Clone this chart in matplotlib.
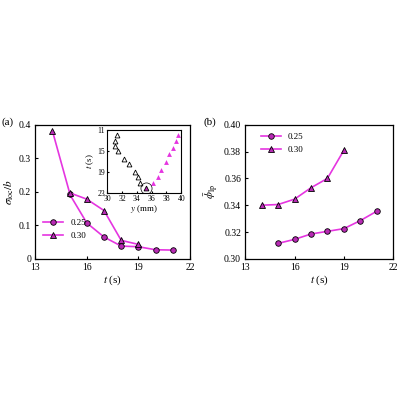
import matplotlib
matplotlib.use("Agg")
import matplotlib.pyplot as plt

plt.rcParams['font.family'] = 'Liberation Serif'
plt.rcParams['font.size'] = 7
plt.rcParams['mathtext.fontset'] = 'stix'

t25 = [15, 16, 17, 18, 19, 20, 21]
t30 = [14, 15, 16, 17, 18, 19]
sig25 = [0.193, 0.107, 0.065, 0.038, 0.036, 0.027, 0.026]
sig30 = [0.382, 0.197, 0.178, 0.144, 0.055, 0.043]
phi25 = [0.3115, 0.3145, 0.3185, 0.3205, 0.3225, 0.3285, 0.3355]
phi30 = [0.340, 0.3405, 0.3445, 0.353, 0.360, 0.381]

ins_y_black = [31.3, 31.1, 31.0, 31.4, 32.3, 33.0, 33.8, 34.1, 34.4]
ins_t_black = [12.0, 13.0, 14.0, 15.0, 16.5, 17.5, 19.0, 20.0, 21.0]
ins_y_mag = [36.2, 36.8, 37.3, 37.9, 38.4, 38.9, 39.3, 39.6]
ins_t_mag = [21.0, 20.0, 18.5, 17.0, 15.5, 14.5, 13.0, 12.0]
ins_y_mid = [35.3]
ins_t_mid = [22.0]

C = '#e535e0'
fig = plt.figure(figsize=(4, 4), dpi=100)
ax1 = fig.add_axes([0.088, 0.353, 0.387, 0.335])
ax2 = fig.add_axes([0.613, 0.353, 0.37, 0.335])

kw = dict(color=C, lw=1.2, mec='k', mfc='#b82ab4', mew=0.6, ms=4)
ax1.plot(t25, sig25, marker='o', label='0.25', **kw)
ax1.plot(t30, sig30, marker='^', label='0.30', **kw)
ax1.set_xlim(13, 22); ax1.set_ylim(0, 0.4)
ax1.set_xticks([13, 16, 19, 22]); ax1.set_yticks([0, 0.1, 0.2, 0.3, 0.4])
ax1.set_yticklabels(['0', '0.1', '0.2', '0.3', '0.4'])
ax1.set_xlabel(r'$t$ (s)', labelpad=1, fontsize=8)
ax1.set_ylabel(r'$\sigma_{\rm loc}/b$', labelpad=2, fontsize=8)
ax1.legend(loc='lower left', bbox_to_anchor=(0.0, 0.08), frameon=False, handlelength=2.2, fontsize=6.5)
ax1.text(-0.22, 1.0, '(a)', transform=ax1.transAxes, fontsize=8)

ax2.plot(t25, phi25, marker='o', label='0.25', **kw)
ax2.plot(t30, phi30, marker='^', label='0.30', **kw)
ax2.set_xlim(13, 22); ax2.set_ylim(0.30, 0.40)
ax2.set_xticks([13, 16, 19, 22]); ax2.set_yticks([0.30, 0.32, 0.34, 0.36, 0.38, 0.40])
ax2.set_yticklabels(['0.30', '0.32', '0.34', '0.36', '0.38', '0.40'])
ax2.set_xlabel(r'$t$ (s)', labelpad=1, fontsize=8)
ax2.set_ylabel(r'$\bar{\phi}_{\rm lp}$', labelpad=2, fontsize=8)
ax2.legend(loc='upper left', bbox_to_anchor=(0.05, 1.0), frameon=False, handlelength=2.2, fontsize=6.5)
ax2.text(-0.28, 1.0, '(b)', transform=ax2.transAxes, fontsize=8)

for ax in (ax1, ax2):
    ax.tick_params(direction='in', length=2.5, width=0.8, pad=3, top=False, right=False)
    for s in ax.spines.values():
        s.set_linewidth(0.9)

axi = fig.add_axes([0.268, 0.517, 0.185, 0.158])
axi.plot(ins_y_black, ins_t_black, '^', mfc='none', mec='k', ms=3.5, mew=0.6)
axi.plot(ins_y_mag, ins_t_mag, '^', color=C, ms=3.5, mew=0)
axi.plot(ins_y_mid, ins_t_mid, '^', mfc='#b82ab4', mec='k', ms=3.5, mew=0.6)
axi.plot(ins_y_mid, ins_t_mid, 'o', mfc='none', mec='k', ms=8, mew=0.5)
axi.set_xlim(30, 40); axi.set_ylim(23, 11)
axi.set_xticks([30, 32, 34, 36, 38, 40]); axi.set_yticks([11, 15, 19, 23])
axi.set_xlabel(r'$y$ (mm)', fontsize=6.5, labelpad=0)
axi.set_ylabel(r'$t$ (s)', fontsize=6.5, labelpad=1)
axi.tick_params(direction='in', length=1.5, labelsize=5.5, pad=1.5)

fig.savefig('out.png', dpi=100)
